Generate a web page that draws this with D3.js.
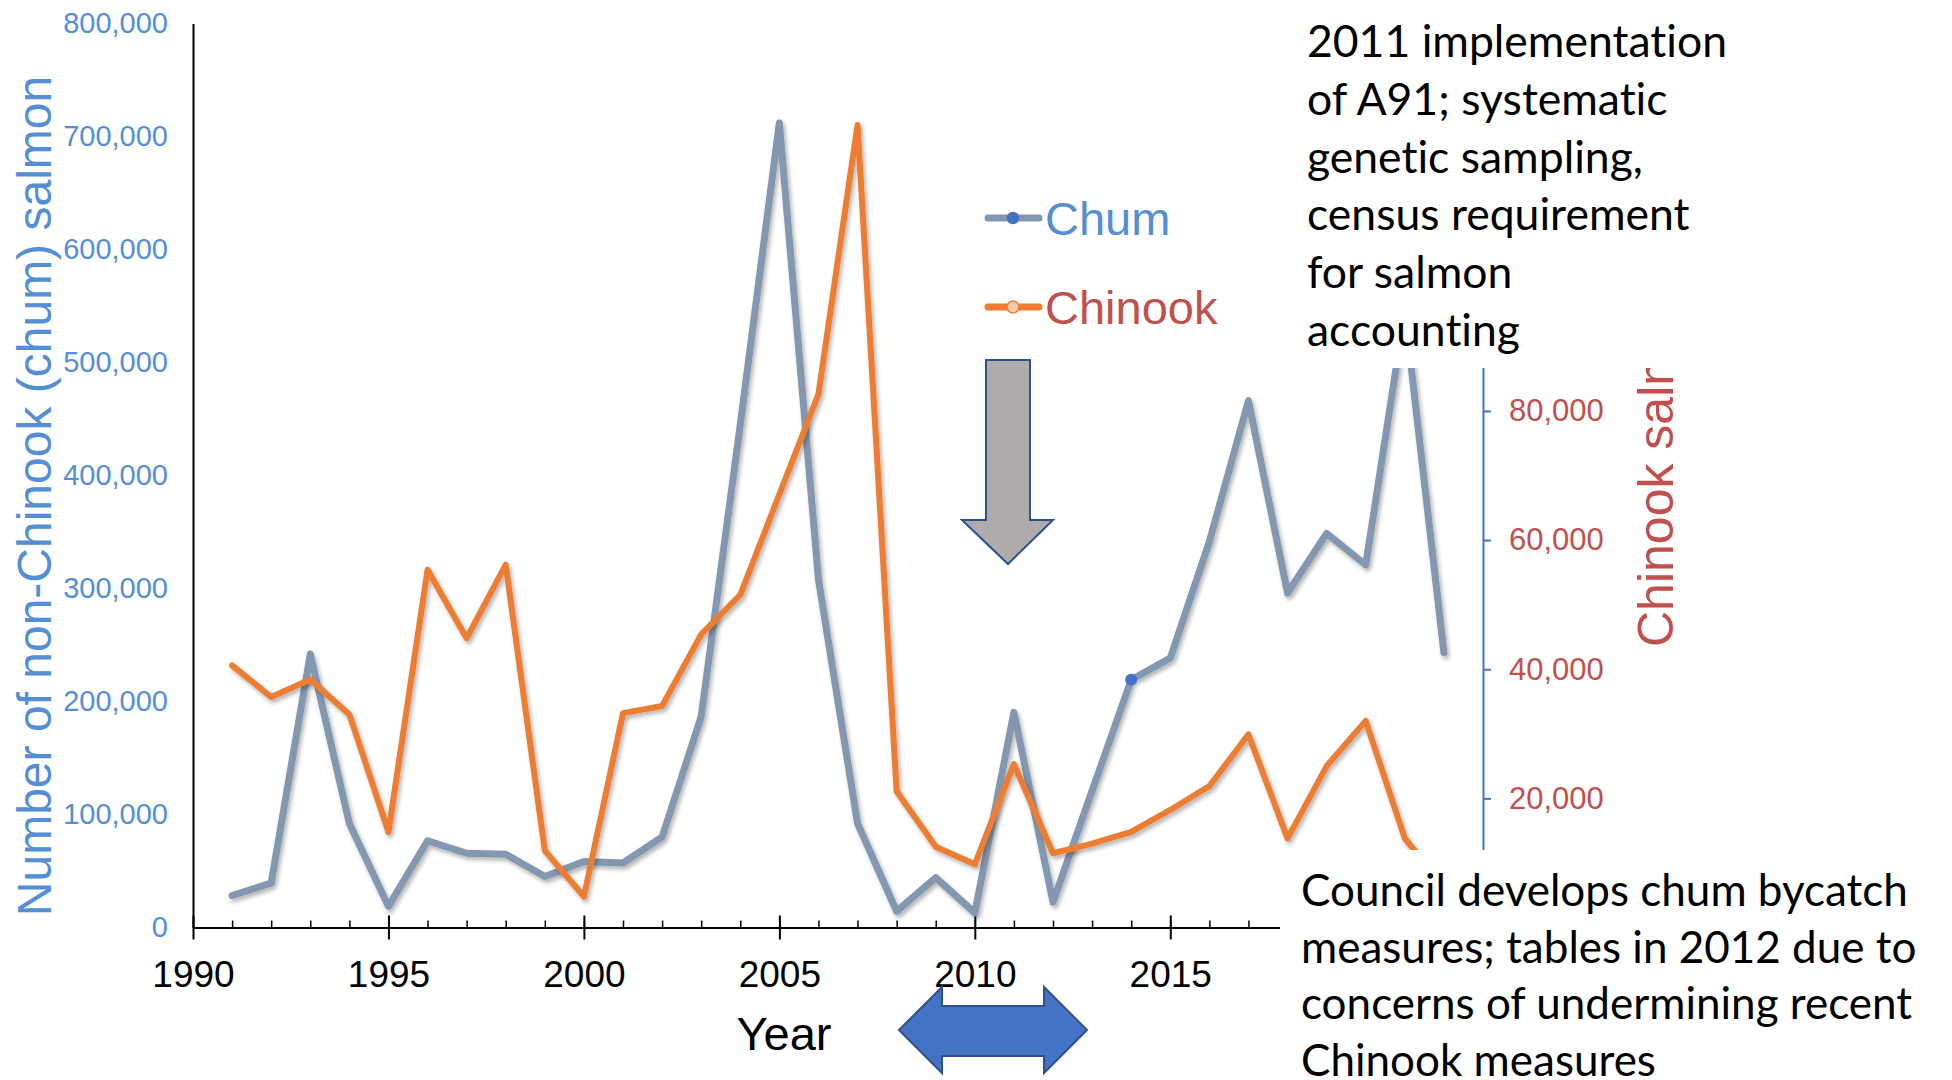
<!DOCTYPE html>
<html><head><meta charset="utf-8">
<script src="https://cdn.jsdelivr.net/npm/d3@7"></script>
<style>body{margin:0;background:#fff;} svg{display:block;} text{font-variant-ligatures:none;font-feature-settings:"liga" 0,"clig" 0;}</style>
</head><body>
<svg id="c" width="1952" height="1080"></svg>
<script>
// ---- data ----
const years   = [1991,1992,1993,1994,1995,1996,1997,1998,1999,2000,2001,2002,2003,2004,2005,2006,2007,2008,2009,2010,2011,2012,2013,2014,2015,2016,2017,2018,2019,2020,2021,2022];
const chum    = [28300,39300,242000,92100,18700,76800,65700,64800,45100,58500,57100,80100,186600,445000,712000,308000,92100,14400,44100,13000,190400,22500,121000,219200,238400,341500,466300,296000,348700,320900,545000,243200];
const chinook = [40600,35700,38400,33000,14800,55400,44800,56200,11900,4800,33200,34300,45400,51500,67100,82600,124300,21100,12500,9800,25300,11500,13000,14800,18200,21900,29900,13800,25000,32000,13800,6300];
const leftTicks  = [0,100000,200000,300000,400000,500000,600000,700000,800000];
const rightTicks = [20000,40000,60000,80000];
const majorYears = [1990,1995,2000,2005,2010,2015];
const minorYears = d3.range(1990,2019);
const highlightYear = 2014;
const seriesNames = ["Chum","Chinook"];
const leftTitle = "Number of non-Chinook (chum) salmon";
const rightTitle = "Chinook salmon";
const xTitle = "Year";
const noteTop = ["2011 implementation","of A91; systematic","genetic sampling,","census requirement","for salmon","accounting"];
const noteBottom = ["Council develops chum bycatch","measures; tables in 2012 due to","concerns of undermining recent","Chinook measures"];

// ---- setup ----
const svg = d3.select('#c');
const blue = "#558ED5", red = "#C0504D", chumCol = "#8497B0", orange = "#ED7D31", axisBlue = "#4472C4";
const defs = svg.append('defs');
const f = defs.append('filter').attr('id','sh').attr('x','-5%').attr('y','-5%').attr('width','110%').attr('height','110%');
f.append('feDropShadow').attr('dx',2).attr('dy',3).attr('stdDeviation',2).attr('flood-color','#000').attr('flood-opacity',0.3);
defs.append('clipPath').attr('id','clipR').append('rect').attr('x',1600).attr('y',368).attr('width',200).attr('height',482);

const x  = d3.scaleLinear().domain([1990,2023]).range([193,1483]);
const yL = d3.scaleLinear().domain([0,800000]).range([927.5,23.5]);
const yR = d3.scaleLinear().domain([0,140000]).range([927.5,23.5]);
const FONT = "'Liberation Sans', Arial, sans-serif";

// left axis
const gL = svg.append('g').attr('transform',`translate(${x(1990)},0)`)
  .call(d3.axisLeft(yL).tickValues(leftTicks).tickSize(0).tickSizeOuter(0).tickPadding(25).tickFormat(d3.format(',')));
gL.select('.domain').attr('stroke','#000').attr('stroke-width',2);
gL.selectAll('text').attr('fill',blue).style('font-family',FONT).style('font-size','29px');

// bottom axis minor
const gXm = svg.append('g').attr('transform',`translate(0,${yL(0)})`)
  .call(d3.axisBottom(x).tickValues(minorYears).tickSize(-7).tickSizeOuter(0).tickFormat(''));
gXm.select('.domain').attr('stroke','#000').attr('stroke-width',2);
gXm.selectAll('line').attr('stroke','#000').attr('stroke-width',1.5);
// bottom axis major
const gX = svg.append('g').attr('transform',`translate(0,${yL(0)})`)
  .call(d3.axisBottom(x).tickValues(majorYears).tickSize(12).tickSizeOuter(0).tickFormat(d3.format('d')));
gX.select('.domain').remove();
gX.selectAll('line').attr('y1',-12).attr('y2',12).attr('stroke','#000').attr('stroke-width',2);
gX.selectAll('text').attr('y',33).attr('fill','#000').style('font-family',FONT).style('font-size','37px');

// right axis
const gR = svg.append('g').attr('transform',`translate(${x(2023)},0)`)
  .call(d3.axisRight(yR).tickValues(rightTicks).tickSize(8).tickSizeOuter(0).tickPadding(18).tickFormat(d3.format(',')));
gR.select('.domain').attr('stroke',axisBlue).attr('stroke-width',2);
gR.selectAll('line').attr('stroke',axisBlue).attr('stroke-width',2);
gR.selectAll('text').attr('fill',red).style('font-family',FONT).style('font-size','31px');

// titles
svg.append('text').attr('transform',`translate(51,496) rotate(-90)`).attr('text-anchor','middle')
  .attr('fill',blue).style('font-family',FONT).style('font-size','48px').text(leftTitle);
svg.append('g').attr('clip-path','url(#clipR)').append('text').attr('transform',`translate(1673,647) rotate(-90)`).attr('text-anchor','start')
  .attr('fill',red).style('font-family',FONT).style('font-size','50px').text(rightTitle);
svg.append('text').attr('x',784).attr('y',1050).attr('text-anchor','middle')
  .attr('fill','#000').style('font-family',FONT).style('font-size','47px').text(xTitle);

// lines
const lineL = d3.line().x((d,i)=>x(years[i])).y(d=>yL(d));
const lineR = d3.line().x((d,i)=>x(years[i])).y(d=>yR(d));
svg.append('path').datum(chum).attr('d',lineL).attr('fill','none').attr('stroke',chumCol)
  .attr('stroke-width',7).attr('stroke-linejoin','round').attr('stroke-linecap','round').attr('filter','url(#sh)');
svg.append('path').datum(chinook).attr('d',lineR).attr('fill','none').attr('stroke',orange)
  .attr('stroke-width',6).attr('stroke-linejoin','round').attr('stroke-linecap','round').attr('filter','url(#sh)');
const hi = years.indexOf(highlightYear);
svg.append('circle').attr('cx',x(years[hi])).attr('cy',yL(chum[hi])).attr('r',6).attr('fill',axisBlue);

// legend
const leg = [{name:seriesNames[0],y:218,col:chumCol,tc:blue,mf:axisBlue,ms:axisBlue,r:5.5},
             {name:seriesNames[1],y:307,col:orange,tc:red,mf:"#F8CBAD",ms:orange,r:6}];
leg.forEach(l=>{
  svg.append('line').attr('x1',988).attr('x2',1039).attr('y1',l.y).attr('y2',l.y).attr('stroke',l.col).attr('stroke-width',7).attr('stroke-linecap','round');
  svg.append('circle').attr('cx',1013).attr('cy',l.y).attr('r',l.r).attr('fill',l.mf).attr('stroke',l.ms).attr('stroke-width',1.5);
  svg.append('text').attr('x',1045).attr('y',l.y+17).attr('fill',l.tc).style('font-family',FONT).style('font-size','47px').text(l.name);
});

// down arrow (gray)
svg.append('path').attr('d','M986,360 L1030,360 L1030,520 L1053,520 L1008,564 L962,520 L986,520 Z')
  .attr('fill','#AFABAB').attr('stroke','#2F528F').attr('stroke-width',2);
// double arrow (blue)
svg.append('path').attr('d','M899,1030 L942,987 L942,1006 L1044,1006 L1044,987 L1087,1030 L1044,1073 L1044,1056 L942,1056 L942,1073 Z')
  .attr('fill','#4472C4').attr('stroke','#2F528F').attr('stroke-width',2);

// text boxes (white, covering chart)
svg.append('rect').attr('x',1288).attr('y',0).attr('width',664).attr('height',368).attr('fill','#fff');
svg.append('rect').attr('x',1280).attr('y',850).attr('width',672).attr('height',230).attr('fill','#fff');

function block(lines, x0, y0, dy, targetW){
  const g = svg.append('g');
  const t = g.append('text').style('font-family',"Lato, 'Open Sans', sans-serif").style('font-size','44px').attr('fill','#000');
  lines.forEach((s,i)=>t.append('tspan').attr('x',0).attr('y',i*dy).text(s));
  const w = t.select('tspan').node().getComputedTextLength();
  g.attr('transform',`translate(${x0},${y0}) scale(${targetW/w},1)`);
}
block(noteTop, 1307, 57, 57.8, 420);
block(noteBottom, 1301, 906, 56.6, 607);
</script>
</body></html>
